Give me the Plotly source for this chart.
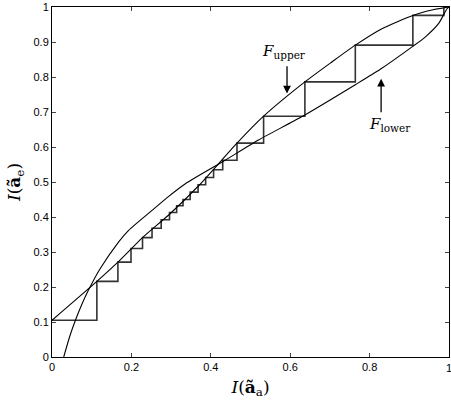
import plotly.graph_objects as go

# F_upper curve (starts at (0, 0.105))
fu_x = [0, 0.113, 0.166, 0.228, 0.298, 0.37, 0.466, 0.533, 0.637, 0.705, 0.764, 0.831, 0.909, 0.96, 1.0]
fu_y = [0.105, 0.216, 0.271, 0.341, 0.41, 0.49, 0.611, 0.688, 0.786, 0.843, 0.891, 0.938, 0.976, 0.992, 1.0]

# F_lower curve (steep start near x=0.03)
fl_x = [0.0295, 0.045, 0.059, 0.075, 0.091, 0.12, 0.168, 0.193, 0.252, 0.294, 0.336, 0.433, 0.52, 0.630, 0.764, 0.827, 0.907, 0.94, 0.974, 0.995, 1.0]
fl_y = [0.0, 0.06, 0.105, 0.15, 0.189, 0.25, 0.329, 0.362, 0.419, 0.459, 0.495, 0.560, 0.62, 0.687, 0.778, 0.822, 0.886, 0.914, 0.953, 0.995, 1.0]

# Staircase corner points (top-left corners)
st_x = [0, 0.113, 0.166, 0.199, 0.228, 0.252, 0.275, 0.296, 0.314, 0.330, 0.348, 0.368, 0.387, 0.407, 0.430, 0.466, 0.533, 0.637, 0.764, 0.909, 0.987]
st_y = [0.105, 0.216, 0.271, 0.310, 0.341, 0.368, 0.392, 0.413, 0.432, 0.450, 0.471, 0.492, 0.513, 0.535, 0.562, 0.611, 0.688, 0.786, 0.891, 0.976, 1.0]

x_ticks = [0, 0.2, 0.4, 0.6, 0.8, 1]
x_labels = ["0", "0.2", "0.4", "0.6", "0.8", "1"]
y_ticks = [0, 0.1, 0.2, 0.3, 0.4, 0.5, 0.6, 0.7, 0.8, 0.9, 1]
y_labels = ["0", "0.1", "0.2", "0.3", "0.4", "0.5", "0.6", "0.7", "0.8", "0.9", "1"]

fig = go.Figure()
fig.add_trace(go.Scatter(x=st_x, y=st_y, mode="lines", line=dict(color="#333333", width=1.6, shape="hv"),
                         showlegend=False, hoverinfo="skip"))
fig.add_trace(go.Scatter(x=fu_x, y=fu_y, mode="lines", line=dict(color="black", width=1.1, shape="spline", smoothing=0.6),
                         showlegend=False))
fig.add_trace(go.Scatter(x=fl_x, y=fl_y, mode="lines", line=dict(color="black", width=1.1, shape="spline", smoothing=0.6),
                         showlegend=False))

serif = "DejaVu Serif"
fig.add_annotation(x=0.592, y=0.753, ax=0.592, ay=0.835, xref="x", yref="y", axref="x", ayref="y",
                   text="", showarrow=True, arrowhead=2, arrowsize=1.2, arrowwidth=1.3, arrowcolor="black")
fig.add_annotation(x=0.584, y=0.873, xref="x", yref="y", showarrow=False,
                   text="<i>F</i><sub>upper</sub>", font=dict(family=serif, size=15, color="black"))
fig.add_annotation(x=0.829, y=0.795, ax=0.829, ay=0.695, xref="x", yref="y", axref="x", ayref="y",
                   text="", showarrow=True, arrowhead=2, arrowsize=1.2, arrowwidth=1.3, arrowcolor="black")
fig.add_annotation(x=0.852, y=0.665, xref="x", yref="y", showarrow=False,
                   text="<i>F</i><sub>lower</sub>", font=dict(family=serif, size=15, color="black"))
# right-most x tick label (partially cut at the figure edge, as in the reference)
fig.add_annotation(x=x_ticks[-1], y=0, xref="x", yref="y", showarrow=False, yanchor="top", yshift=-3,
                   text=x_labels[-1], font=dict(family="Liberation Sans, Arial", size=11, color="black"))

fig.update_layout(
    width=451, height=405,
    margin=dict(l=52, r=2, t=7, b=48),
    plot_bgcolor="white", paper_bgcolor="white",
    font=dict(family="Liberation Sans, Arial", size=11, color="black"),
    xaxis=dict(range=[0, 1], tickvals=x_ticks[:-1], ticktext=x_labels[:-1], ticks="inside", ticklen=4,
               showline=True, linecolor="black", linewidth=1, mirror="ticks", showgrid=False, zeroline=False,
               automargin=False,
               title=dict(text="<i>I</i>(<b>ã</b><sub>a</sub>)", font=dict(family=serif, size=17), standoff=8)),
    yaxis=dict(range=[0, 1], tickvals=y_ticks, ticktext=y_labels, ticks="inside", ticklen=4,
               showline=True, linecolor="black", linewidth=1, mirror="ticks", showgrid=False, zeroline=False,
               automargin=False,
               title=dict(text="<i>I</i>(<b>ã</b><sub>e</sub>)", font=dict(family=serif, size=17), standoff=8)),
)

fig.write_html("out.html", config={"displayModeBar": False},
               post_script="document.body.style.margin='0';document.body.style.overflow='hidden';")
